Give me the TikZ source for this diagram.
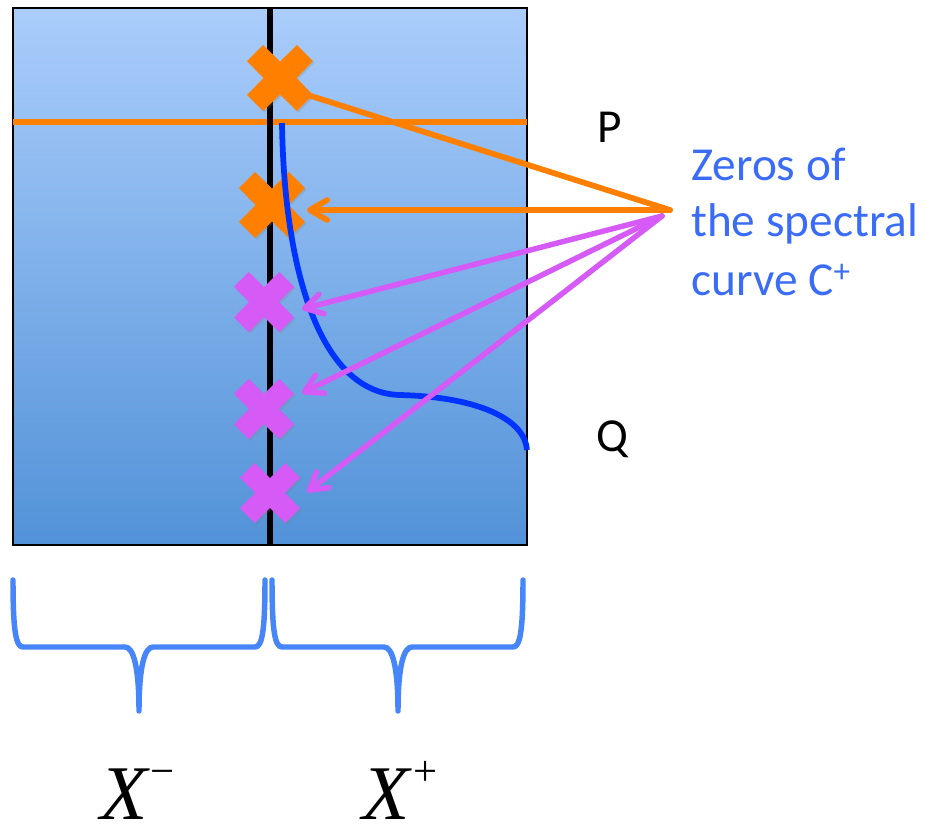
\documentclass[tikz,border=0pt]{standalone}
\usepackage{fontspec}
\setmainfont{Carlito}
\newfontfamily\libserif{Liberation Serif}
\usetikzlibrary{arrows.meta,shadows}
\definecolor{xorange}{RGB}{255,128,0}
\definecolor{xpurple}{RGB}{214,90,246}
\definecolor{curveblue}{RGB}{0,51,255}
\definecolor{textblue}{RGB}{59,108,247}
\definecolor{braceblue}{RGB}{70,134,248}
\definecolor{bgtop}{RGB}{170,205,251}
\definecolor{bgbot}{RGB}{82,146,216}
\newcommand\xlab[1]{{\libserif\fontsize{58}{60}\selectfont\itshape X}\kern2.5pt\raisebox{25.5pt}{\libserif\fontsize{32}{32}\selectfont #1}}
\tikzset{
  xmark/.pic={\path[pic actions, drop shadow={opacity=0.25,shadow xshift=1.2pt,shadow yshift=-1.2pt}]
    (0,-16.3) -- (16.8,-33) -- (33,-16.8) -- (16.3,0) -- (33,16.8) -- (16.8,33) -- (0,16.3)
    -- (-16.8,33) -- (-33,16.8) -- (-16.3,0) -- (-33,-16.8) -- (-16.8,-33) -- cycle;},
  oline/.style={draw=xorange, line width=4.3pt, line cap=round},
  pline/.style={draw=xpurple, line width=4.1pt, line cap=round},
  barb/.style={-{Straight Barb[length=13pt,width=15pt,round]}},
  bracestyle/.style={draw=braceblue, line width=4.1pt, line cap=round, line join=round},
  lbl/.style={anchor=base west, inner sep=0pt, font=\fontsize{35.5}{42}\selectfont},
}
\begin{document}
\begin{tikzpicture}[x=0.75pt,y=-0.75pt]
\useasboundingbox (0,0) rectangle (925,825);
% panel
\shade[top color=bgtop,bottom color=bgbot] (13,8) rectangle (527,545);
\draw[line width=1.5pt] (13,8) rectangle (527,545);
% horizontal line P
\draw[draw=xorange, line width=4.3pt] (13,122) -- (527,122);
% vertical axis
\coordinate (vtop) at (270,8);
\coordinate (vbot) at (270,545);
\draw[line width=3.8pt] (vtop) -- (vbot);
% crosses
\coordinate (o1) at (280,78);
\coordinate (o2) at (272,205);
\coordinate (p1) at (264,302);
\coordinate (p2) at (264,409);
\coordinate (p3) at (270,493);
\pic[fill=xorange] at (o1) {xmark};
\pic[fill=xorange] at (o2) {xmark};
\pic[fill=xpurple, scale=0.91] at (p1) {xmark};
\pic[fill=xpurple, scale=0.91] at (p2) {xmark};
\pic[fill=xpurple, scale=0.91] at (p3) {xmark};
% spectral curve
\coordinate (cstart) at (282,123);
\coordinate (cmid) at (400,395);
\coordinate (cend) at (527,450);
\draw[draw=curveblue, line width=4.3pt] (cstart) .. controls (284,265) and (318,393) .. (cmid)
  .. controls (480,397) and (525,420) .. (cend);
% arrows
\coordinate (srcO) at (670,210);
\coordinate (srcP) at (662,216);
\coordinate (o1e) at (311,96);
\coordinate (tO) at (307,210);
\coordinate (tP1) at (302,309);
\coordinate (tP2) at (302,393);
\coordinate (tP3) at (307,492);
\draw[oline] (o1e) -- (srcO);
\draw[oline, barb] (srcO) -- (tO);
\draw[pline, barb] (srcP) -- (tP1);
\draw[pline, barb] (srcP) -- (tP2);
\draw[pline, barb] (srcP) -- (tP3);
% labels
\node[lbl] (P) at (597,142) {P};
\node[lbl] (Q) at (596,451) {Q};
\node[lbl, text=textblue] (z1) at (691,180) {Zeros of};
\node[lbl, text=textblue] (z2) at (691,236) {the spectral};
\node[lbl, text=textblue] (z3) at (691,295) {curve C\textsuperscript{+}};
% braces
\draw[bracestyle] (13,580) .. controls (13,632) and (16,647) .. (23,647) -- (125,647)
  .. controls (133,647) and (139,665) .. (139,711) .. controls (139,665) and (145,647) .. (153,647)
  -- (255,647) .. controls (262,647) and (265,632) .. (265,580);
\draw[bracestyle] (272,580) .. controls (272,632) and (275,647) .. (282,647) -- (384,647)
  .. controls (392,647) and (398,665) .. (398,711) .. controls (398,665) and (404,647) .. (412,647)
  -- (513,647) .. controls (520,647) and (523,632) .. (523,580);
% X labels
\node[anchor=base, inner sep=0pt] (xm) at (137.5,819) {\xlab{−}};
\node[anchor=base, inner sep=0pt] (xp) at (400,819) {\xlab{+}};
\end{tikzpicture}
\end{document}
